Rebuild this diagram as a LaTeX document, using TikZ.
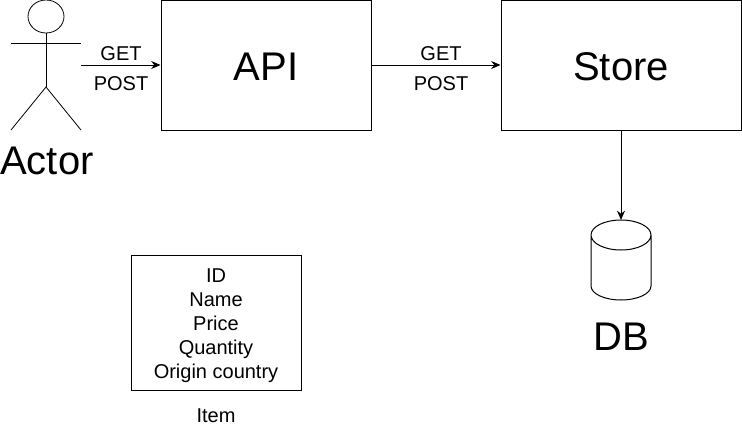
\documentclass[tikz,border=0pt]{standalone}
\usepackage{fontspec}
\setmainfont{Liberation Sans}
\usetikzlibrary{arrows.meta,shapes.geometric}
\begin{document}
\begin{tikzpicture}[
		x=0.75pt, y=-0.75pt,
		box/.style  = {draw, line width=0.75pt, inner sep=0pt},
		lbl/.style  = {font=\fontsize{15}{18}\selectfont, inner sep=0pt},
		big/.style  = {font=\fontsize{30}{30}\selectfont, inner sep=0pt},
		wire/.style = {line width=0.75pt, -{Stealth[length=7pt,width=6pt]}},
		stick/.style = {line width=0.6pt}
		]
		\useasboundingbox (0,0) rectangle (742,432);
		
		% Boxes
		\node[box, big, minimum width=157.5pt, minimum height=97.5pt, text height=23pt, text depth=0pt] (api) at (266, 65) {API};
		\node[box, big, minimum width=180pt, minimum height=97.5pt, text height=23pt, text depth=0pt] (store) at (621, 65) {Store};
		\node[box, lbl, minimum width=127.5pt, minimum height=101.25pt, align=center] (item) at (216, 322.5)
			{\rule{0pt}{15.5pt}ID\\Name\\Price\\Quantity\\Origin country};
		\node[lbl] (itemlbl) at (216, 416) {Item};
		
		% Database
		\coordinate (dbtop) at (621, 220);
		\draw[line width=0.75pt] (591, 235) arc[start angle=180, end angle=0, x radius=22.5pt, y radius=11.25pt]
			arc[start angle=0, end angle=-180, x radius=22.5pt, y radius=11.25pt]
			-- (591, 286) arc[start angle=180, end angle=360, x radius=22.5pt, y radius=10.5pt]
			-- (651, 235);
		\node[big] (dblbl) at (621, 337) {DB};
		
		% Actor
		\node[draw, stick, ellipse, minimum width=27pt, minimum height=24.75pt, inner sep=0pt] (head) at (46, 16.5) {};
		\coordinate (hip) at (46, 87);
		\coordinate (armL) at (11, 43.5);
		\coordinate (armR) at (81, 43.5);
		\coordinate (legL) at (11, 130);
		\coordinate (legR) at (81, 130);
		\coordinate (actor) at (81, 65);
		\draw[stick] (head.south)--(hip);
		\draw[stick] (armL)--(armR);
		\draw[stick] (legL)--(hip)--(legR);
		\node[big] (actorlbl) at (47, 161) {Actor};
		
		% Connectors
		\draw[wire] (actor)--(api.west);
		\draw[wire] (api.east)--(store.west);
		\draw[wire] (store.south)--(dbtop);
		
		% Labels on connectors
		\node[lbl] (get1) at (121, 54) {GET};
		\node[lbl] (post1) at (121, 84) {POST};
		\node[lbl] (get2) at (441, 54) {GET};
		\node[lbl] (post2) at (441, 84) {POST};
	\end{tikzpicture}
\end{document}
